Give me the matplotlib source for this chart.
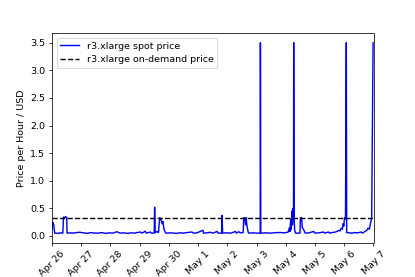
import pandas as pd
import matplotlib
matplotlib.use("Agg")
import matplotlib.pyplot as plt
import matplotlib.dates as mdates

# spot price readings (time, USD per hour)
spot_times = [
    "2016-04-26 00:00", "2016-04-26 00:40", "2016-04-26 01:30", "2016-04-26 02:20",
    "2016-04-26 05:00", "2016-04-26 07:00", "2016-04-26 09:00", "2016-04-26 09:30",
    "2016-04-26 10:30", "2016-04-26 11:20", "2016-04-26 12:10", "2016-04-26 12:30",
    "2016-04-26 15:00", "2016-04-26 18:00", "2016-04-26 20:00", "2016-04-26 23:00",
    "2016-04-27 02:00", "2016-04-27 05:00", "2016-04-27 08:00", "2016-04-27 11:00",
    "2016-04-27 14:00", "2016-04-27 17:00", "2016-04-27 20:00", "2016-04-27 23:00",
    "2016-04-28 02:00", "2016-04-28 05:20", "2016-04-28 08:00", "2016-04-28 11:00",
    "2016-04-28 14:00", "2016-04-28 17:00", "2016-04-28 20:00", "2016-04-28 22:00",
    "2016-04-29 00:40", "2016-04-29 02:00", "2016-04-29 04:40", "2016-04-29 05:30",
    "2016-04-29 08:45", "2016-04-29 09:30", "2016-04-29 12:00", "2016-04-29 12:20",
    "2016-04-29 12:50", "2016-04-29 14:30", "2016-04-29 15:30", "2016-04-29 16:30",
    "2016-04-29 17:30", "2016-04-29 18:30", "2016-04-29 19:10", "2016-04-29 20:00",
    "2016-04-29 21:30", "2016-04-30 02:00", "2016-04-30 06:00", "2016-04-30 09:00",
    "2016-04-30 12:00", "2016-04-30 15:00", "2016-04-30 19:00", "2016-04-30 20:00",
    "2016-04-30 23:00", "2016-05-01 04:00", "2016-05-01 04:30", "2016-05-01 07:00",
    "2016-05-01 10:00", "2016-05-01 12:00", "2016-05-01 15:40", "2016-05-01 16:20",
    "2016-05-01 19:20", "2016-05-01 19:40", "2016-05-01 20:10", "2016-05-01 23:00",
    "2016-05-02 03:00", "2016-05-02 06:40", "2016-05-02 07:30", "2016-05-02 09:20",
    "2016-05-02 11:00", "2016-05-02 13:00", "2016-05-02 13:30", "2016-05-02 14:30",
    "2016-05-02 15:00", "2016-05-02 15:30", "2016-05-02 16:00", "2016-05-02 17:00",
    "2016-05-02 17:30", "2016-05-02 21:00", "2016-05-03 00:00", "2016-05-03 03:00",
    "2016-05-03 03:10", "2016-05-03 03:30", "2016-05-03 07:00", "2016-05-03 12:00",
    "2016-05-03 16:00", "2016-05-03 20:00", "2016-05-03 23:00", "2016-05-04 02:00",
    "2016-05-04 03:00", "2016-05-04 03:30", "2016-05-04 04:00", "2016-05-04 04:30",
    "2016-05-04 05:00", "2016-05-04 05:30", "2016-05-04 06:00", "2016-05-04 06:20",
    "2016-05-04 06:30", "2016-05-04 06:50", "2016-05-04 07:20", "2016-05-04 08:00",
    "2016-05-04 11:40", "2016-05-04 12:00", "2016-05-04 13:00", "2016-05-04 13:30",
    "2016-05-04 14:30", "2016-05-04 16:00", "2016-05-04 19:00", "2016-05-04 22:50",
    "2016-05-05 00:00", "2016-05-05 03:00", "2016-05-05 07:00", "2016-05-05 08:00",
    "2016-05-05 11:00", "2016-05-05 12:00", "2016-05-05 14:00", "2016-05-05 16:50",
    "2016-05-05 18:00", "2016-05-05 19:30", "2016-05-05 20:30", "2016-05-05 21:30",
    "2016-05-05 22:30", "2016-05-05 23:00", "2016-05-05 23:40", "2016-05-06 00:10",
    "2016-05-06 01:00", "2016-05-06 01:40", "2016-05-06 02:00", "2016-05-06 06:00",
    "2016-05-06 09:00", "2016-05-06 11:00", "2016-05-06 14:00", "2016-05-06 15:00",
    "2016-05-06 17:00", "2016-05-06 18:30", "2016-05-06 19:30", "2016-05-06 20:30",
    "2016-05-06 21:30", "2016-05-06 22:30", "2016-05-06 23:40",
]
spot_prices = [
    0.12, 0.25, 0.21, 0.05,
    0.045, 0.055, 0.05, 0.34,
    0.33, 0.35, 0.33, 0.05,
    0.055, 0.05, 0.06, 0.065,
    0.055, 0.045, 0.06, 0.05,
    0.05, 0.06, 0.045, 0.055,
    0.05, 0.075, 0.05, 0.055,
    0.045, 0.055, 0.05, 0.06,
    0.07, 0.05, 0.085, 0.05,
    0.07, 0.05, 0.05, 0.52,
    0.06, 0.08, 0.06, 0.33,
    0.30, 0.22, 0.26, 0.12,
    0.05, 0.055, 0.045, 0.055,
    0.05, 0.06, 0.07, 0.05,
    0.055, 0.10, 0.05, 0.055,
    0.065, 0.05, 0.08, 0.05,
    0.05, 0.37, 0.05, 0.055,
    0.05, 0.08, 0.05, 0.075,
    0.055, 0.06, 0.33, 0.32,
    0.20, 0.33, 0.20, 0.08,
    0.05, 0.055, 0.05, 0.05,
    3.5, 0.05, 0.055, 0.05,
    0.06, 0.06, 0.055, 0.07,
    0.15, 0.08, 0.30, 0.12,
    0.45, 0.20, 0.50, 0.30,
    3.5, 0.30, 0.10, 0.05,
    0.05, 0.33, 0.33, 0.15,
    0.12, 0.05, 0.055, 0.08,
    0.05, 0.055, 0.07, 0.05,
    0.07, 0.05, 0.06, 0.07,
    0.08, 0.10, 0.09, 0.14,
    0.12, 0.22, 0.18, 0.33,
    0.30, 3.5, 0.06, 0.05,
    0.06, 0.055, 0.07, 0.05,
    0.08, 0.10, 0.14, 0.12,
    0.22, 0.33, 3.5,
]
ondemand_price = 0.333
x_start = "2016-04-26"
x_end = "2016-05-07"

df = pd.DataFrame({"time": pd.to_datetime(spot_times), "price": spot_prices})

dpi = 68
fig, ax = plt.subplots(figsize=(415 / dpi, 277 / dpi), dpi=dpi)
fig.subplots_adjust(left=0.125, right=0.9, top=0.88, bottom=0.123)

ax.plot(df["time"], df["price"], color="b", label="r3.xlarge spot price")
ax.axhline(ondemand_price, color="k", linestyle="--", label="r3.xlarge on-demand price")

ax.set_xlim(pd.Timestamp(x_start), pd.Timestamp(x_end))
ax.xaxis.set_major_locator(mdates.DayLocator())
ax.xaxis.set_major_formatter(mdates.DateFormatter("%b %-d"))
plt.setp(ax.get_xticklabels(), rotation=45)
ax.set_ylabel("Price per Hour / USD")
ax.legend(loc="upper left")

fig.savefig("out.png", dpi=dpi)
